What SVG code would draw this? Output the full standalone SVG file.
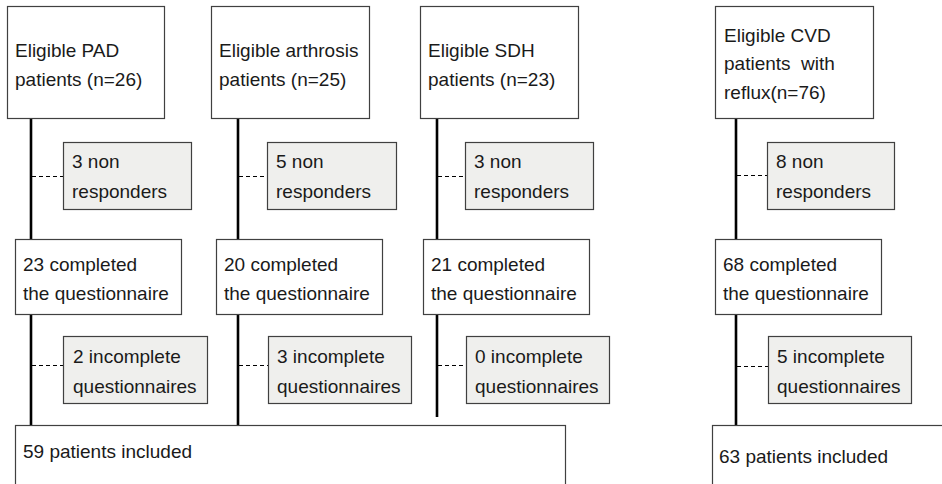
<svg xmlns="http://www.w3.org/2000/svg" width="942" height="484" viewBox="0 0 942 484">
<style>
.box{fill:#ffffff;stroke:#404040;stroke-width:1.2}
.gbox{fill:#efefed;stroke:#404040;stroke-width:1.2}
.t{font-family:"Liberation Sans",Arial,sans-serif;font-size:19px;fill:#1a1a1a}
.v{stroke:#000;stroke-width:2.6;fill:none}
.d{stroke:#000;stroke-width:1.2;stroke-dasharray:4 3;fill:none}
</style>
<rect width="942" height="484" fill="#ffffff"/>
<g id="connectors">
<path class="v" d="M31 118V239M31 314V425"/>
<path class="v" d="M238 118V239M238 314V425"/>
<path class="v" d="M437 118V239M437 314V417"/>
<path class="v" d="M736 118V239M736 314V425"/>
<path class="d" d="M32 176.5H63M239 176.5H267M438 176.5H465M737 175.5H767"/>
<path class="d" d="M32 365.5H63M239 365.5H268M438 365.5H466M737 366.5H768"/>
</g>
<g id="pad-eligible"><rect class="box" x="7.5" y="6.5" width="157" height="112"/><text class="t" x="15" y="57">Eligible PAD</text><text class="t" x="15" y="86">patients (n=26)</text></g>
<g id="arthrosis-eligible"><rect class="box" x="211.5" y="6.5" width="158" height="112"/><text class="t" x="219" y="57">Eligible arthrosis</text><text class="t" x="219" y="86">patients (n=25)</text></g>
<g id="sdh-eligible"><rect class="box" x="420.5" y="6.5" width="158" height="112"/><text class="t" x="428" y="57">Eligible SDH</text><text class="t" x="428" y="86">patients (n=23)</text></g>
<g id="cvd-eligible"><rect class="box" x="715.5" y="6.5" width="158" height="112"/><text class="t" x="724" y="42">Eligible CVD</text><text class="t" x="724" y="70" xml:space="preserve">patients  with</text><text class="t" x="724" y="99">reflux(n=76)</text></g>
<g id="pad-nonresp"><rect class="gbox" x="63.5" y="142.5" width="128" height="67"/><text class="t" x="72" y="168">3 non</text><text class="t" x="72" y="198">responders</text></g>
<g id="arthrosis-nonresp"><rect class="gbox" x="267.5" y="142.5" width="129" height="67"/><text class="t" x="276" y="168">5 non</text><text class="t" x="276" y="198">responders</text></g>
<g id="sdh-nonresp"><rect class="gbox" x="465.5" y="142.5" width="128" height="67"/><text class="t" x="474" y="168">3 non</text><text class="t" x="474" y="198">responders</text></g>
<g id="cvd-nonresp"><rect class="gbox" x="767.5" y="142.5" width="127" height="67"/><text class="t" x="776" y="168">8 non</text><text class="t" x="776" y="198">responders</text></g>
<g id="pad-completed"><rect class="box" x="15.5" y="239.5" width="166" height="75"/><text class="t" x="23" y="271">23 completed</text><text class="t" x="23" y="300">the questionnaire</text></g>
<g id="arthrosis-completed"><rect class="box" x="216.5" y="239.5" width="166" height="75"/><text class="t" x="224" y="271">20 completed</text><text class="t" x="224" y="300">the questionnaire</text></g>
<g id="sdh-completed"><rect class="box" x="423.5" y="239.5" width="166" height="75"/><text class="t" x="431" y="271">21 completed</text><text class="t" x="431" y="300">the questionnaire</text></g>
<g id="cvd-completed"><rect class="box" x="715.5" y="239.5" width="166" height="75"/><text class="t" x="723" y="271">68 completed</text><text class="t" x="723" y="300">the questionnaire</text></g>
<g id="pad-incomplete"><rect class="gbox" x="63.5" y="336.5" width="144" height="67"/><text class="t" x="73" y="363">2 incomplete</text><text class="t" x="73" y="393">questionnaires</text></g>
<g id="arthrosis-incomplete"><rect class="gbox" x="268.5" y="336.5" width="143" height="67"/><text class="t" x="277" y="363">3 incomplete</text><text class="t" x="277" y="393">questionnaires</text></g>
<g id="sdh-incomplete"><rect class="gbox" x="466.5" y="336.5" width="143" height="67"/><text class="t" x="475" y="363">0 incomplete</text><text class="t" x="475" y="393">questionnaires</text></g>
<g id="cvd-incomplete"><rect class="gbox" x="768.5" y="336.5" width="143" height="67"/><text class="t" x="777" y="363">5 incomplete</text><text class="t" x="777" y="393">questionnaires</text></g>
<g id="included-59"><rect class="box" x="15.5" y="425.5" width="550" height="70"/><text class="t" x="23" y="458">59 patients included</text></g>
<g id="included-63"><rect class="box" x="712.5" y="425.5" width="240" height="70"/><text class="t" x="719" y="463">63 patients included</text></g>
</svg>
